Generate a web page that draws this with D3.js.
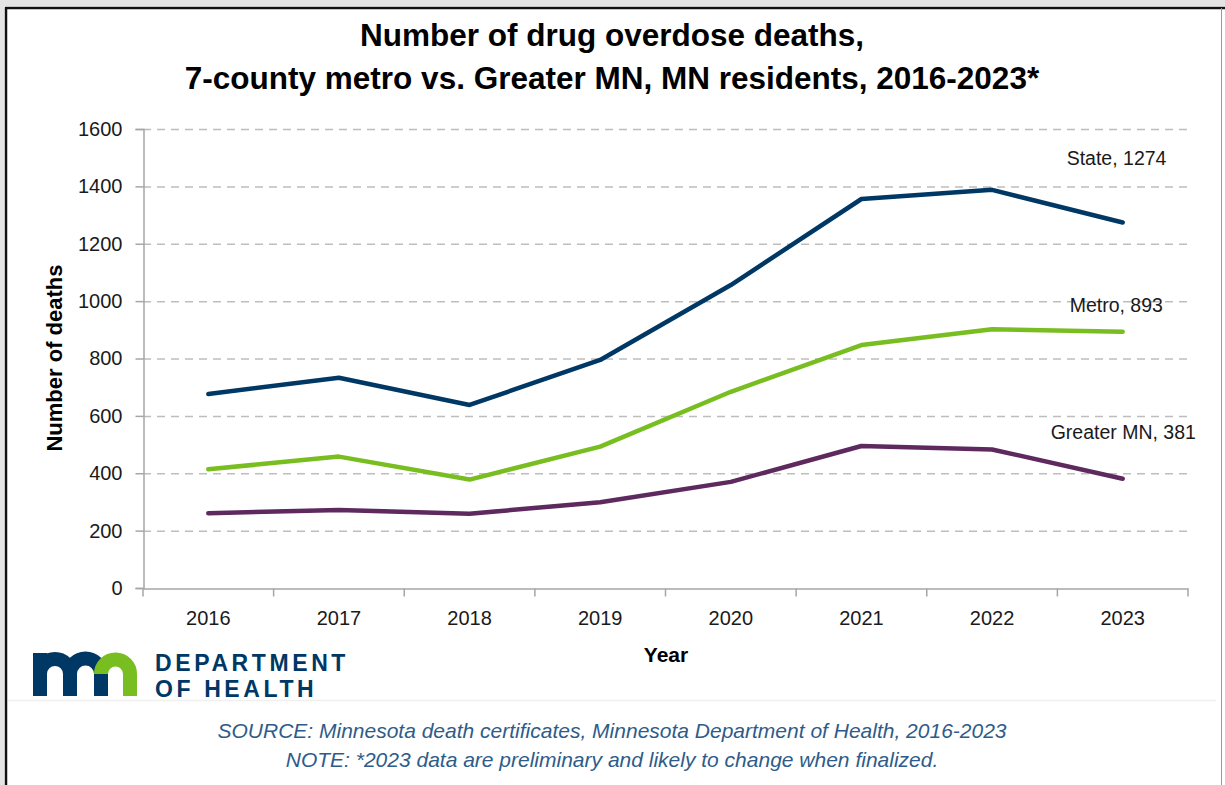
<!DOCTYPE html>
<html>
<head>
<meta charset="utf-8">
<script src="https://cdn.jsdelivr.net/npm/d3@7"></script>
<style>
  html, body { margin: 0; padding: 0; background: #ffffff; }
  svg { display: block; font-family: "Liberation Sans", Arial, sans-serif; }
</style>
</head>
<body>
<svg id="chart" width="1225" height="785"></svg>
<script>
// ---- data ----
const years = ["2016", "2017", "2018", "2019", "2020", "2021", "2022", "2023"];
const stateDeaths   = [676, 733, 638, 795, 1056, 1356, 1388, 1274];
const metroDeaths   = [414, 458, 378, 493, 684, 847, 902, 893];
const greaterDeaths = [261, 272, 259, 299, 370, 495, 483, 381];
const seriesNames   = ["State", "Metro", "Greater MN"];
const yTicks = [0, 200, 400, 600, 800, 1000, 1200, 1400, 1600];
const titleLines = ["Number of drug overdose deaths,", "7-county metro vs. Greater MN, MN residents, 2016-2023*"];
const footLines = ["SOURCE: Minnesota death certificates, Minnesota Department of Health, 2016-2023",
                   "NOTE: *2023 data are preliminary and likely to change when finalized."];

const colors = { "State": "#003865", "Metro": "#78be21", "Greater MN": "#5d295f" };
const series = [
  { name: seriesNames[0], values: stateDeaths, dx: -56, dy: -58 },
  { name: seriesNames[1], values: metroDeaths, dx: -53, dy: -20 },
  { name: seriesNames[2], values: greaterDeaths, dx: -72, dy: -40 }
];

const svg = d3.select("#chart");

// ---- frame ----
svg.append("rect").attr("x", 0).attr("y", 0).attr("width", 1225).attr("height", 6).attr("fill", "#e4e4e4");
svg.append("rect").attr("x", 0).attr("y", 0).attr("width", 4).attr("height", 785).attr("fill", "#e4e4e4");
svg.append("line").attr("x1", 5).attr("x2", 1225).attr("y1", 8).attr("y2", 8).attr("stroke", "#111").attr("stroke-width", 2.5);
svg.append("line").attr("x1", 6).attr("x2", 6).attr("y1", 7).attr("y2", 785).attr("stroke", "#111").attr("stroke-width", 2.5);
svg.append("line").attr("x1", 1221.5).attr("x2", 1221.5).attr("y1", 8).attr("y2", 785).attr("stroke", "#9a9a9a").attr("stroke-width", 1);
svg.append("line").attr("x1", 8).attr("x2", 1216).attr("y1", 700.5).attr("y2", 700.5).attr("stroke", "#f0f0f0").attr("stroke-width", 1.5);

// ---- title ----
svg.append("g").selectAll("text").data(titleLines).join("text")
  .attr("x", 612).attr("y", (d, i) => 46 + i * 43)
  .attr("text-anchor", "middle")
  .attr("font-size", 31.5).attr("font-weight", "bold").attr("fill", "#000")
  .text(d => d);

// ---- scales ----
const x = d3.scaleBand().domain(years).range([143, 1188]).padding(0);
const y = d3.scaleLinear().domain([0, 1600]).range([588, 129]);
const cx = d => x(d) + x.bandwidth() / 2;

// gridlines
svg.append("g").selectAll("line").data(yTicks.filter(t => t > 0)).join("line")
  .attr("x1", 143).attr("x2", 1188)
  .attr("y1", d => y(d) + 0.5).attr("y2", d => y(d) + 0.5)
  .attr("stroke", "#bdbdbd").attr("stroke-width", 1.5).attr("stroke-dasharray", "8,6");

// y axis
const yAxis = svg.append("g").attr("transform", "translate(143.5,0)")
  .call(d3.axisLeft(y).tickValues(yTicks).tickSize(8).tickPadding(13).tickFormat(d3.format("d")));
yAxis.select(".domain").attr("stroke", "#a6a6a6").attr("stroke-width", 1.5);
yAxis.selectAll(".tick line").attr("stroke", "#a6a6a6").attr("stroke-width", 1.5);
yAxis.selectAll("text").attr("font-size", 20).attr("fill", "#1a1a1a").attr("font-family", "Liberation Sans, Arial, sans-serif");

// x axis
const xAxis = svg.append("g").attr("transform", "translate(0,588.5)")
  .call(d3.axisBottom(x).tickSize(0).tickPadding(22));
xAxis.select(".domain").attr("stroke", "#a6a6a6").attr("stroke-width", 1.5);
xAxis.selectAll("text").attr("font-size", 20).attr("fill", "#1a1a1a").attr("font-family", "Liberation Sans, Arial, sans-serif");
const edges = years.map(d => x(d)).concat([x.range()[1]]);
xAxis.selectAll(".edge").data(edges).join("line").attr("class", "edge")
  .attr("x1", d => d).attr("x2", d => d).attr("y1", 0).attr("y2", 8)
  .attr("stroke", "#a6a6a6").attr("stroke-width", 1.5);

// axis titles
svg.append("text").attr("transform", "translate(62,358) rotate(-90)")
  .attr("text-anchor", "middle").attr("font-size", 22).attr("font-weight", "bold").attr("fill", "#000")
  .text("Number of deaths");
svg.append("text").attr("x", 666).attr("y", 662).attr("text-anchor", "middle")
  .attr("font-size", 21).attr("font-weight", "bold").attr("fill", "#000").text("Year");

// lines
const line = d3.line().x((d, i) => cx(years[i])).y(d => y(d));
svg.append("g").selectAll("path").data(series).join("path")
  .attr("d", d => line(d.values))
  .attr("fill", "none").attr("stroke", d => colors[d.name])
  .attr("stroke-width", 4.5).attr("stroke-linejoin", "round").attr("stroke-linecap", "round");

// end labels
svg.append("g").selectAll("text").data(series).join("text")
  .attr("x", d => cx(years[years.length - 1]) + d.dx)
  .attr("y", d => y(d.values[d.values.length - 1]) + d.dy)
  .attr("font-size", 19.5).attr("fill", "#1a1a1a")
  .text(d => d.name + ", " + d.values[d.values.length - 1]);

// ---- logo ----
const logo = svg.append("g");
logo.append("rect").attr("x", 33).attr("y", 653).attr("width", 14).attr("height", 43).attr("fill", "#003865");
logo.append("path")
  .attr("d", "M40,696 V674 A15,15 0 0 1 70,674 V696 M70,674 A15.5,15.5 0 0 1 101,674 V696")
  .attr("fill", "none").attr("stroke", "#003865").attr("stroke-width", 14);
logo.append("path")
  .attr("d", "M101,674 A14.5,14.5 0 0 1 130,674 V696")
  .attr("fill", "none").attr("stroke", "#78be21").attr("stroke-width", 14);
logo.append("text").attr("x", 155).attr("y", 671).attr("font-size", 23).attr("font-weight", "bold")
  .attr("letter-spacing", 3.6).attr("fill", "#003865").text("DEPARTMENT");
logo.append("text").attr("x", 155).attr("y", 697).attr("font-size", 23).attr("font-weight", "bold")
  .attr("letter-spacing", 3.6).attr("fill", "#003865").text("OF HEALTH");

// ---- footnotes ----
svg.append("g").selectAll("text").data(footLines).join("text")
  .attr("x", 612).attr("y", (d, i) => 738 + i * 29)
  .attr("text-anchor", "middle").attr("font-size", 21).attr("font-style", "italic").attr("fill", "#2e5c8a")
  .text(d => d);
</script>
</body>
</html>
